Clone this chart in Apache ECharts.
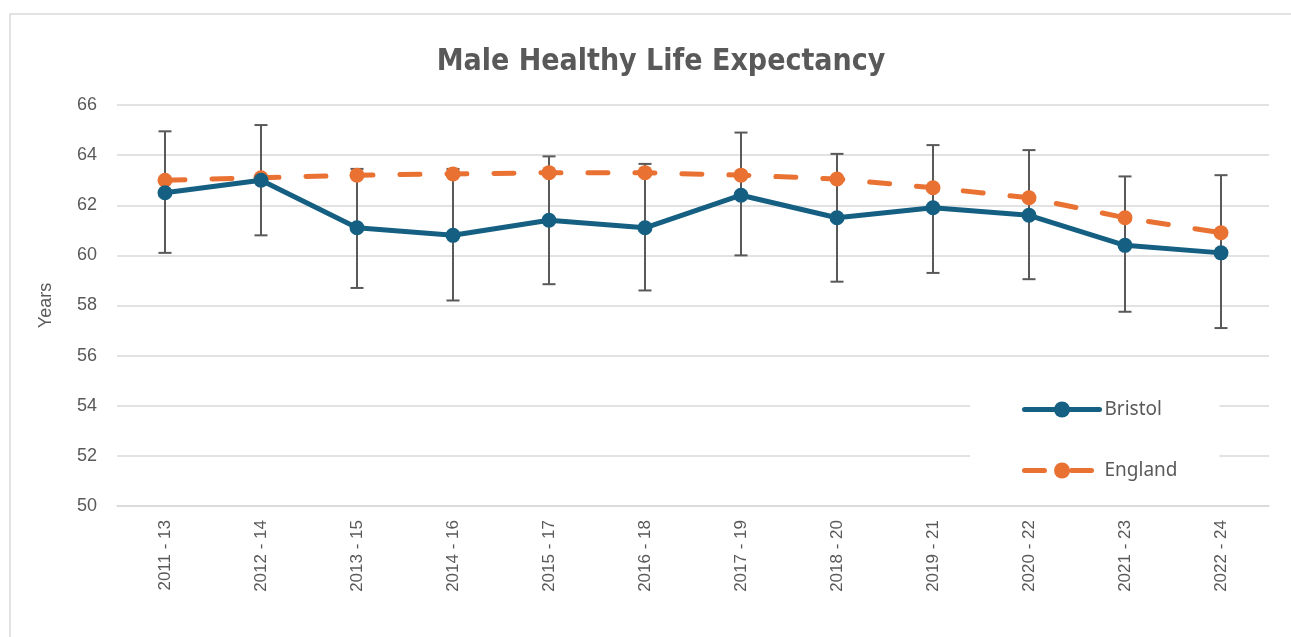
<!DOCTYPE html>
<html>
<head>
<meta charset="utf-8">
<script src="https://cdn.jsdelivr.net/npm/echarts@6/dist/echarts.min.js"></script>
<style>
  html, body { margin: 0; padding: 0; background: #fff; }
  #chart { width: 1291px; height: 637px; }
</style>
</head>
<body>
<div id="chart"></div>
<script>
// periods
var periods = ['2011 - 13', '2012 - 14', '2013 - 15', '2014 - 16', '2015 - 17', '2016 - 18',
               '2017 - 19', '2018 - 20', '2019 - 21', '2020 - 22', '2021 - 23', '2022 - 24'];
// healthy life expectancy, years
var bristol = [62.5, 63.0, 61.1, 60.8, 61.4, 61.1, 62.4, 61.5, 61.9, 61.6, 60.4, 60.1];
var england = [63.0, 63.1, 63.2, 63.25, 63.3, 63.3, 63.2, 63.05, 62.7, 62.3, 61.5, 60.9];
// Bristol confidence interval
var bristolLow  = [60.1, 60.8, 58.7, 58.2, 58.85, 58.6, 60.0, 58.95, 59.3, 59.05, 57.75, 57.1];
var bristolHigh = [64.95, 65.2, 63.45, 63.45, 63.95, 63.65, 64.9, 64.05, 64.4, 64.2, 63.15, 63.2];

var errData = periods.map(function(p, i) { return [i, bristolLow[i], bristolHigh[i]]; });

var grey = '#595959';
var chart = echarts.init(document.getElementById('chart'));

chart.setOption({
  animation: false,
  title: {
    text: 'Male Healthy Life Expectancy',
    left: 656,
    textAlign: 'center',
    top: 42,
    textStyle: {
      color: grey,
      fontSize: 30,
      fontWeight: 'bold',
      fontFamily: '"Liberation Sans Narrow", "DejaVu Sans Condensed", sans-serif'
    }
  },
  graphic: [{
    type: 'rect',
    shape: { x: 10, y: 14, width: 1290, height: 640 },
    style: { fill: null, stroke: '#d9d9d9', lineWidth: 1.5 },
    silent: true
  }],
  legend: {
    orient: 'vertical',
    left: 970,
    top: 395,
    padding: [5, 42, 13, 52],
    backgroundColor: '#fff',
    itemWidth: 75,
    itemHeight: 20,
    itemGap: 42,
    data: ['Bristol', 'England'],
    lineStyle: { width: 5, cap: 'round' },
    textStyle: { color: grey, fontSize: 19, fontFamily: '"Noto Sans", sans-serif' },
    z: 10
  },
  grid: { left: 117, right: 22, top: 105, bottom: 131 },
  xAxis: {
    type: 'category',
    data: periods,
    axisLine: { lineStyle: { color: '#d9d9d9', width: 1.5 } },
    axisTick: { show: false },
    axisLabel: {
      rotate: 90,
      margin: 14,
      color: grey,
      fontSize: 17,
      fontFamily: '"Liberation Sans", Arial, sans-serif'
    }
  },
  yAxis: {
    type: 'value',
    min: 50,
    max: 66,
    interval: 2,
    name: 'Years',
    nameLocation: 'middle',
    nameGap: 62,
    nameTextStyle: { color: grey, fontSize: 18, fontFamily: '"Liberation Sans", Arial, sans-serif' },
    axisLine: { show: false },
    axisTick: { show: false },
    axisLabel: { margin: 20, color: grey, fontSize: 18, fontFamily: '"Liberation Sans", Arial, sans-serif' },
    splitLine: { lineStyle: { color: '#d9d9d9', width: 1.5 } }
  },
  series: [
    {
      name: 'Bristol CI',
      type: 'custom',
      data: errData,
      z: 1,
      silent: true,
      renderItem: function(params, api) {
        var x = api.value(0);
        var lo = api.coord([x, api.value(1)]);
        var hi = api.coord([x, api.value(2)]);
        var half = 6.5;
        var st = { stroke: grey, lineWidth: 2 };
        return {
          type: 'group',
          children: [
            { type: 'line', shape: { x1: lo[0], y1: lo[1], x2: hi[0], y2: hi[1] }, style: st },
            { type: 'line', shape: { x1: lo[0] - half, y1: lo[1], x2: lo[0] + half, y2: lo[1] }, style: st },
            { type: 'line', shape: { x1: hi[0] - half, y1: hi[1], x2: hi[0] + half, y2: hi[1] }, style: st }
          ]
        };
      }
    },
    {
      name: 'England',
      type: 'line',
      data: england,
      z: 3,
      symbol: 'circle',
      symbolSize: 15,
      itemStyle: { color: '#E97132' },
      lineStyle: { color: '#E97132', width: 5, type: [20, 27], cap: 'round' }
    },
    {
      name: 'Bristol',
      type: 'line',
      data: bristol,
      z: 4,
      symbol: 'circle',
      symbolSize: 15,
      itemStyle: { color: '#156082' },
      lineStyle: { color: '#156082', width: 5, cap: 'round', join: 'round' }
    }
  ]
});

window.addEventListener('resize', function() { chart.resize(); });
</script>
</body>
</html>
